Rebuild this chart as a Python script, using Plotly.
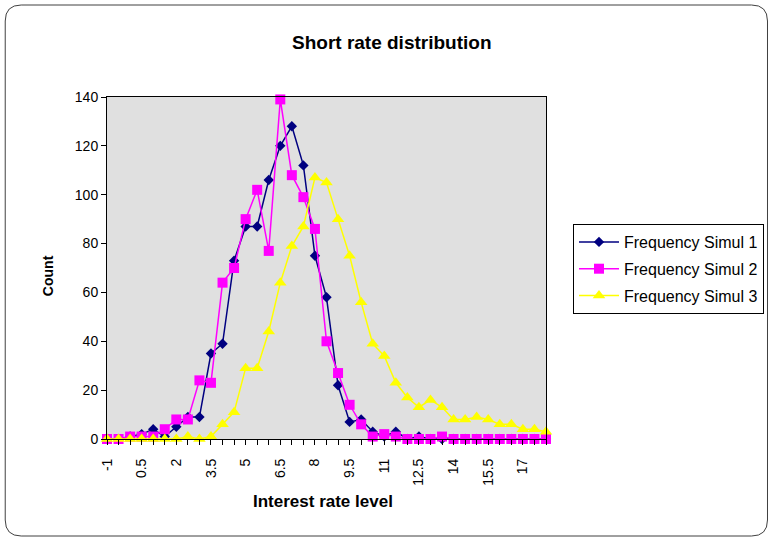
import plotly.graph_objects as go

rates = [-1, -0.5, 0, 0.5, 1, 1.5, 2, 2.5, 3, 3.5, 4, 4.5, 5, 5.5, 6, 6.5, 7, 7.5, 8, 8.5,
         9, 9.5, 10, 10.5, 11, 11.5, 12, 12.5, 13, 13.5, 14, 14.5, 15, 15.5, 16, 16.5, 17, 17.5, 18]

simul1 = [0, 0, 1, 2, 4, 1, 5, 9, 9, 35, 39, 73, 87, 87, 106, 120, 128, 112, 75, 58,
          22, 7, 8, 3, 1, 3, 0, 1, 0, 0, 0, 0, 0, 0, 0, 0, 0, 0, 0]
simul2 = [0, 0, 1, 1, 1, 4, 8, 8, 24, 23, 64, 70, 90, 102, 77, 139, 108, 99, 86, 40,
          27, 14, 6, 1, 2, 1, 0, 0, 0, 1, 0, 0, 0, 0, 0, 0, 0, 0, 0]
simul3 = [0, 0, 0, 0, 0, 0, 0, 1, 0, 1, 6, 11, 29, 29, 44, 64, 79, 87, 107, 105,
          90, 75, 56, 39, 34, 23, 17, 13, 16, 13, 8, 8, 9, 8, 6, 6, 4, 4, 3]

tick_vals = [-1, 0.5, 2, 3.5, 5, 6.5, 8, 9.5, 11, 12.5, 14, 15.5, 17]
tick_text = ["-1", "0.5", "2", "3.5", "5", "6.5", "8", "9.5", "11", "12.5", "14", "15.5", "17"]

series = [
    ("Frequency Simul 1", simul1, "#000080", "diamond", 8),
    ("Frequency Simul 2", simul2, "#FF00FF", "square", 10),
    ("Frequency Simul 3", simul3, "#FFFF00", "triangle-up", 11),
]

FONT = "Liberation Sans, Arial, sans-serif"

fig = go.Figure()
for i, (name, vals, col, sym, sz) in enumerate(series):
    fig.add_trace(go.Scatter(
        x=rates, y=vals, name=name, mode="lines+markers",
        line=dict(color=col, width=1.5),
        marker=dict(symbol=sym, size=sz, color=col, line=dict(width=0)),
        cliponaxis=False, legendgroup="g%d" % i,
    ))

# plot area pixel geometry
L, R, T, B = 107, 547, 97, 439
W, H = R - L, B - T


def px(x):
    return (x - L) / W


def py(y):
    return (B - y) / H


# rounded outer border
x0, x1, y0, y1, r = 5, 769, 5, 536, 16
path = (
    f"M {px(x0 + r)} {py(y0)} L {px(x1 - r)} {py(y0)} "
    f"Q {px(x1)} {py(y0)} {px(x1)} {py(y0 + r)} "
    f"L {px(x1)} {py(y1 - r)} Q {px(x1)} {py(y1)} {px(x1 - r)} {py(y1)} "
    f"L {px(x0 + r)} {py(y1)} Q {px(x0)} {py(y1)} {px(x0)} {py(y1 - r)} "
    f"L {px(x0)} {py(y0 + r)} Q {px(x0)} {py(y0)} {px(x0 + r)} {py(y0)} Z"
)

fig.update_layout(
    width=775, height=541,
    margin=dict(l=L, r=775 - R, t=T, b=541 - B),
    paper_bgcolor="white", plot_bgcolor="#E0E0E0",
    font=dict(family=FONT, color="black", size=13),
    showlegend=True,
    legend=dict(x=px(573), y=py(224), xanchor="left", yanchor="top",
                bgcolor="white", bordercolor="black", borderwidth=1,
                font=dict(size=16, family=FONT), tracegroupgap=3,
                itemwidth=40),
    shapes=[dict(type="path", path=path, xref="paper", yref="paper",
                 line=dict(color="#404040", width=1), layer="below")],
    annotations=[
        dict(text="<b>Short rate distribution</b>", x=px(393), y=py(42),
             xref="paper", yref="paper", showarrow=False,
             font=dict(size=19, family=FONT), xanchor="center", yanchor="middle"),
        dict(text="<b>Interest rate level</b>", x=px(323), y=py(501),
             xref="paper", yref="paper", showarrow=False,
             font=dict(size=17, family=FONT), xanchor="center", yanchor="middle"),
        dict(text="<b>Count</b>", x=px(48), y=py(276), textangle=-90,
             xref="paper", yref="paper", showarrow=False,
             font=dict(size=14, family=FONT), xanchor="center", yanchor="middle"),
    ],
    xaxis=dict(range=[-1, 18], tickmode="array", tickvals=tick_vals, ticktext=tick_text,
               tickangle=-90, ticks="outside", ticklen=5, tickcolor="black",
               ticklabelstandoff=8,
               showgrid=False, zeroline=False, showline=True, linecolor="black",
               linewidth=1, mirror=True, tickfont=dict(size=14),
               minor=dict(tickmode="linear", tick0=-1, dtick=0.5, ticks="outside",
                          ticklen=5, tickcolor="black", showgrid=False)),
    yaxis=dict(range=[0, 140], tickmode="linear", tick0=0, dtick=20,
               ticks="outside", ticklen=5, tickcolor="black",
               showgrid=False, zeroline=False, showline=True, linecolor="black",
               linewidth=1, mirror=True, tickfont=dict(size=14)),
)

fig.write_html("out.html")
